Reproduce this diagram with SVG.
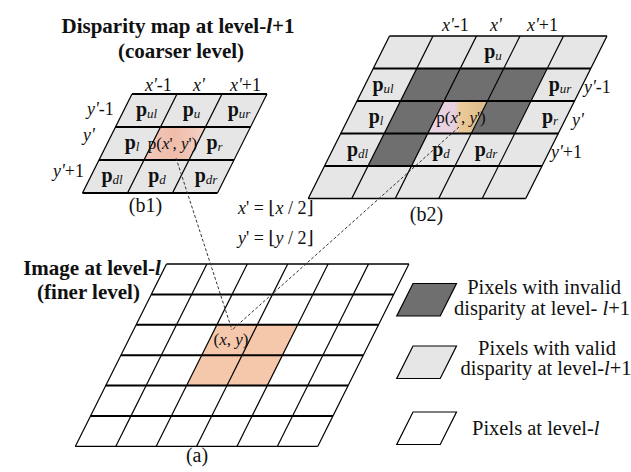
<svg xmlns="http://www.w3.org/2000/svg" width="631" height="472" viewBox="0 0 631 472">
<style>
.t{font-family:"Liberation Serif","DejaVu Serif",serif;fill:#111}
.b{font-weight:bold}
.i{font-style:italic}
.title{font-size:21px;font-weight:bold}
.ax{font-size:18px}
.cap{font-size:20px}
.p{font-size:20px;font-weight:bold}
.sub{font-size:13px;font-weight:normal;font-style:italic}
.pc{font-size:17px}
.leg{font-size:20.5px}
.hl{stroke:#000;stroke-width:2;fill:none}
.ho{stroke:#000;stroke-width:1.4;fill:none}
.sl{stroke:#000;stroke-width:1.2;fill:none}
.light{fill:#e6e6e6}
.dark{fill:#6f6f6f}
.dash{stroke:#333;stroke-width:1;stroke-dasharray:3 2;fill:none}
</style>
<defs>
<linearGradient id="g1" x1="0" y1="0" x2="1" y2="0">
<stop offset="0" stop-color="#f2c9bd"/>
<stop offset="0.5" stop-color="#f0bcaa"/>
<stop offset="1" stop-color="#f2d2c6"/>
</linearGradient>
<linearGradient id="g2" x1="0" y1="0" x2="1" y2="0">
<stop offset="0" stop-color="#e9d6e6"/>
<stop offset="0.45" stop-color="#e8d0de"/>
<stop offset="0.55" stop-color="#ecca98"/>
<stop offset="1" stop-color="#d9b98a"/>
</linearGradient>
</defs>
<rect width="631" height="472" fill="#fff"/>

<g id="title-b">
<text class="t title" x="178" y="33" text-anchor="middle">Disparity map at level-<tspan class="i">l</tspan>+1</text>
<text class="t title" x="181" y="58" text-anchor="middle">(coarser level)</text>
</g>

<g id="grid-b1">
<polygon class="light" points="132,94 267,94 217.5,193 82.5,193"/>
<polygon fill="url(#g1)" points="160.5,127 205.5,127 189,160 144,160"/>
<line class="hl" x1="132" y1="94" x2="267" y2="94"/>
<line class="hl" x1="115.5" y1="127" x2="250.5" y2="127"/>
<line class="hl" x1="99" y1="160" x2="234" y2="160"/>
<line class="hl" x1="82.5" y1="193" x2="217.5" y2="193"/>
<line class="sl" x1="132" y1="94" x2="82.5" y2="193"/>
<line class="sl" x1="177" y1="94" x2="127.5" y2="193"/>
<line class="sl" x1="222" y1="94" x2="172.5" y2="193"/>
<line class="sl" x1="267" y1="94" x2="217.5" y2="193"/>
<text class="t ax" y="91"><tspan class="i" x="145">x'</tspan>-1<tspan class="i" x="193">x'</tspan><tspan class="i" x="230">x'</tspan>+1</text>
<text class="t ax" y="115"><tspan class="i" x="87">y'</tspan>-1</text>
<text class="t ax i" x="83" y="141">y'</text>
<text class="t ax" y="177"><tspan class="i" x="53">y'</tspan>+1</text>
<text class="t p" x="146.5" y="116" text-anchor="middle">p<tspan class="sub" dy="2">ul</tspan></text>
<text class="t p" x="191.5" y="116" text-anchor="middle">p<tspan class="sub" dy="2">u</tspan></text>
<text class="t p" x="239" y="116" text-anchor="middle">p<tspan class="sub" dy="2">ur</tspan></text>
<text class="t p" x="132" y="149" text-anchor="middle">p<tspan class="sub" dy="2">l</tspan></text>
<text class="t pc" x="172.5" y="149" text-anchor="middle">p(<tspan class="i">x</tspan>', <tspan class="i">y</tspan>')</text>
<text class="t p" x="214.5" y="149" text-anchor="middle">p<tspan class="sub" dy="2">r</tspan></text>
<text class="t p" x="112" y="182" text-anchor="middle">p<tspan class="sub" dy="2">dl</tspan></text>
<text class="t p" x="157" y="182" text-anchor="middle">p<tspan class="sub" dy="2">d</tspan></text>
<text class="t p" x="206" y="182" text-anchor="middle">p<tspan class="sub" dy="2">dr</tspan></text>
<text class="t cap" x="145.5" y="212" text-anchor="middle">(b1)</text>
</g>

<g id="grid-b2">
<polygon class="light" points="389.5,36 607,36 525.75,198.5 308.25,198.5"/>
<polygon class="dark" points="416.75,68.5 547.25,68.5 531,101 400.5,101"/>
<polygon class="dark" points="400.5,101 444,101 427.75,133.5 384.25,133.5"/>
<polygon class="dark" points="487.5,101 531,101 514.75,133.5 471.25,133.5"/>
<polygon class="dark" points="384.25,133.5 427.75,133.5 411.5,166 368,166"/>
<polygon fill="url(#g2)" points="444,101 487.5,101 471.25,133.5 427.75,133.5"/>
<line class="ho" x1="389.5" y1="36" x2="607" y2="36"/>
<line class="hl" x1="373.25" y1="68.5" x2="590.75" y2="68.5"/>
<line class="hl" x1="357" y1="101" x2="574.5" y2="101"/>
<line class="hl" x1="340.75" y1="133.5" x2="558.25" y2="133.5"/>
<line class="hl" x1="324.5" y1="166" x2="542" y2="166"/>
<line class="ho" x1="308.25" y1="198.5" x2="525.75" y2="198.5"/>
<line class="sl" x1="389.5" y1="36" x2="308.25" y2="198.5"/>
<line class="sl" x1="433" y1="36" x2="351.75" y2="198.5"/>
<line class="sl" x1="476.5" y1="36" x2="395.25" y2="198.5"/>
<line class="sl" x1="520" y1="36" x2="438.75" y2="198.5"/>
<line class="sl" x1="563.5" y1="36" x2="482.25" y2="198.5"/>
<line class="sl" x1="607" y1="36" x2="525.75" y2="198.5"/>
<text class="t ax" y="31"><tspan class="i" x="442">x'</tspan>-1<tspan class="i" x="490">x'</tspan><tspan class="i" x="527">x'</tspan>+1</text>
<text class="t ax" y="93"><tspan class="i" x="584">y'</tspan>-1</text>
<text class="t ax i" x="572" y="126">y'</text>
<text class="t ax" y="158"><tspan class="i" x="551">y'</tspan>+1</text>
<text class="t p" x="493" y="58" text-anchor="middle">p<tspan class="sub" dy="2">u</tspan></text>
<text class="t p" x="383" y="91" text-anchor="middle">p<tspan class="sub" dy="2">ul</tspan></text>
<text class="t p" x="560" y="91" text-anchor="middle">p<tspan class="sub" dy="2">ur</tspan></text>
<text class="t p" x="376" y="123" text-anchor="middle">p<tspan class="sub" dy="2">l</tspan></text>
<text class="t pc" x="461" y="123" text-anchor="middle">p(<tspan class="i">x</tspan>', <tspan class="i">y</tspan>')</text>
<text class="t p" x="550" y="123" text-anchor="middle">p<tspan class="sub" dy="2">r</tspan></text>
<text class="t p" x="357.5" y="156" text-anchor="middle">p<tspan class="sub" dy="2">dl</tspan></text>
<text class="t p" x="441" y="156" text-anchor="middle">p<tspan class="sub" dy="2">d</tspan></text>
<text class="t p" x="486" y="156" text-anchor="middle">p<tspan class="sub" dy="2">dr</tspan></text>
<text class="t cap" x="426.5" y="221" text-anchor="middle">(b2)</text>
</g>

<g id="formulas">
<text class="t ax" x="238" y="214"><tspan class="i">x</tspan>' = ⌊<tspan class="i">x</tspan> / 2⌋</text>
<text class="t ax" x="238" y="244"><tspan class="i">y</tspan>' = ⌊<tspan class="i">y</tspan> / 2⌋</text>
</g>

<g id="title-a">
<text class="t title" x="92" y="275" text-anchor="middle">Image at level-<tspan class="i">l</tspan></text>
<text class="t title" x="88.5" y="299" text-anchor="middle">(finer level)</text>
</g>

<g id="grid-a">
<polygon fill="#f5c7ab" points="216.9,324.8 297.7,324.8 267.3,385.6 186.5,385.6"/>
<line class="ho" x1="166.5" y1="264" x2="408.9" y2="264"/>
<line class="hl" x1="151.3" y1="294.4" x2="393.7" y2="294.4"/>
<line class="hl" x1="136.1" y1="324.8" x2="378.5" y2="324.8"/>
<line class="hl" x1="120.9" y1="355.2" x2="363.3" y2="355.2"/>
<line class="hl" x1="105.7" y1="385.6" x2="348.1" y2="385.6"/>
<line class="hl" x1="90.5" y1="416" x2="332.9" y2="416"/>
<line class="ho" x1="75.3" y1="446.4" x2="317.7" y2="446.4"/>
<line class="sl" x1="166.5" y1="264" x2="75.3" y2="446.4"/>
<line class="sl" x1="206.9" y1="264" x2="115.7" y2="446.4"/>
<line class="sl" x1="247.3" y1="264" x2="156.1" y2="446.4"/>
<line class="sl" x1="287.7" y1="264" x2="196.5" y2="446.4"/>
<line class="sl" x1="328.1" y1="264" x2="236.9" y2="446.4"/>
<line class="sl" x1="368.5" y1="264" x2="277.3" y2="446.4"/>
<line class="sl" x1="408.9" y1="264" x2="317.7" y2="446.4"/>
<text class="t pc" x="213.5" y="345">(<tspan class="i">x</tspan>, <tspan class="i">y</tspan>)</text>
<text class="t cap" x="197" y="462" text-anchor="middle">(a)</text>
</g>

<g id="connectors">
<line class="dash" x1="176" y1="158" x2="232" y2="330"/>
<line class="dash" x1="459" y1="127" x2="232" y2="330"/>
</g>

<g id="legend-invalid">
<polygon class="dark" stroke="#000" stroke-width="1.2" points="413,283.5 456.5,283.5 440.25,316 396.75,316"/>
<text class="t leg" x="544" y="293.5" text-anchor="middle">Pixels with invalid</text>
<text class="t leg" x="542" y="315" text-anchor="middle">disparity at level- <tspan class="i">l</tspan>+1</text>
</g>
<g id="legend-valid">
<polygon class="light" stroke="#000" stroke-width="1.2" points="413,346 456.5,346 440.25,378.5 396.75,378.5"/>
<text class="t leg" x="547" y="355" text-anchor="middle">Pixels with valid</text>
<text class="t leg" x="546" y="375" text-anchor="middle">disparity at level-<tspan class="i">l</tspan>+1</text>
</g>
<g id="legend-pixel">
<polygon fill="#fff" stroke="#000" stroke-width="1.2" points="413,412 456.5,412 440.25,444.5 396.75,444.5"/>
<text class="t leg" x="472" y="435">Pixels at level-<tspan class="i">l</tspan></text>
</g>
</svg>
